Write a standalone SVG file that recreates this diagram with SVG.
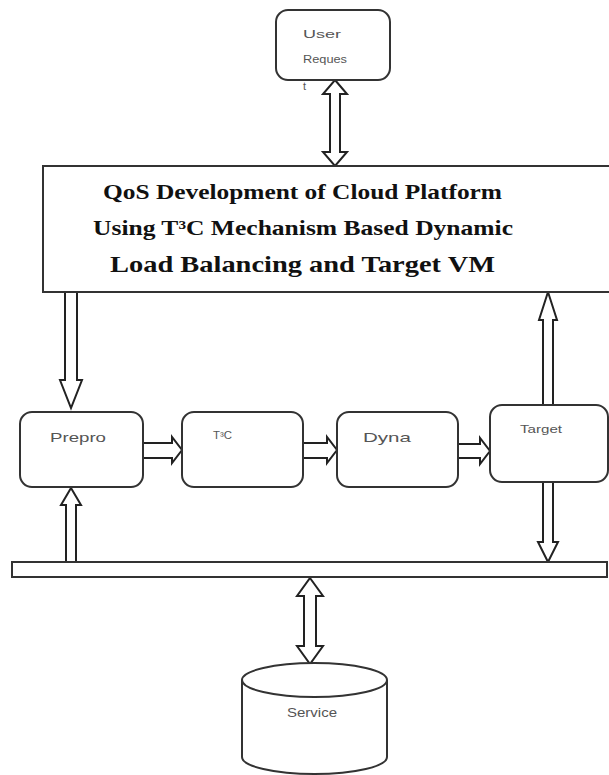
<svg xmlns="http://www.w3.org/2000/svg" width="609" height="775" viewBox="0 0 609 775">
<style>
.box{fill:#fff;stroke:#333;stroke-width:2}
.arr{fill:#fff;stroke:#222;stroke-width:2;stroke-linejoin:miter}
.lbl{font-family:"Liberation Sans",Arial,sans-serif;fill:#555}
.ttl{font-family:"Liberation Serif","Times New Roman",serif;font-weight:bold;fill:#111}
</style>
<rect width="609" height="775" fill="#fff"/>
<g id="connectors">
<polygon class="arr" points="335,80 347,94 340,94 340,152 347,152 335,166 323,152 330,152 330,94 323,94"/>
<polygon class="arr" points="65,292 77,292 77,380 82,380 71,408 60,380 65,380"/>
<polygon class="arr" points="71,488 81,505 76,505 76,562 66,562 66,505 61,505"/>
<polygon class="arr" points="548,292 557,320 553,320 553,405 543,405 543,320 539,320"/>
<polygon class="arr" points="543,482 553,482 553,542 558,542 548,562 538,542 543,542"/>
<polygon class="arr" points="310,578 323,596 316,596 316,646 323,646 310,664 297,646 304,646 304,596 297,596"/>
<polygon class="arr" points="143,443 172,443 172,437 182,450 172,463 172,458 143,458"/>
<polygon class="arr" points="303,443 327,443 327,437 337,450 327,463 327,458 303,458"/>
<polygon class="arr" points="458,444 480,444 480,438 490,451 480,464 480,458 458,458"/>
</g>
<g id="user">
<rect class="box" x="276" y="10" width="114" height="70" rx="12"/>
<text class="lbl" x="303" y="38" font-size="11" textLength="38" lengthAdjust="spacingAndGlyphs">User</text>
<text class="lbl" x="303" y="63" font-size="11" textLength="44" lengthAdjust="spacingAndGlyphs">Reques</text>
<text class="lbl" x="303" y="90" font-size="11">t</text>
</g>
<g id="main">
<rect class="box" x="43" y="166" width="575" height="126"/>
<text class="ttl" x="103" y="199" font-size="21" textLength="399" lengthAdjust="spacingAndGlyphs">QoS Development of Cloud Platform</text>
<text class="ttl" x="93" y="235" font-size="21" textLength="420" lengthAdjust="spacingAndGlyphs">Using T³C Mechanism Based Dynamic</text>
<text class="ttl" x="110" y="272" font-size="23" textLength="385" lengthAdjust="spacingAndGlyphs">Load Balancing and Target VM</text>
</g>
<g id="prepro">
<rect class="box" x="20" y="412" width="123" height="75" rx="12"/>
<text class="lbl" x="50" y="442" font-size="13" textLength="56" lengthAdjust="spacingAndGlyphs">Prepro</text>
</g>
<g id="t3c">
<rect class="box" x="182" y="412" width="121" height="75" rx="12"/>
<text class="lbl" x="213" y="439" font-size="10" textLength="19" lengthAdjust="spacingAndGlyphs">T³C</text>
</g>
<g id="dyna">
<rect class="box" x="337" y="412" width="121" height="75" rx="12"/>
<text class="lbl" x="363" y="442" font-size="13" textLength="48" lengthAdjust="spacingAndGlyphs">Dyna</text>
</g>
<g id="target">
<rect class="box" x="490" y="405" width="118" height="77" rx="12"/>
<text class="lbl" x="520" y="433" font-size="11" textLength="42" lengthAdjust="spacingAndGlyphs">Target</text>
</g>
<g id="bus">
<rect class="box" x="12" y="562" width="595" height="15"/>
</g>
<g id="service">
<path class="box" d="M242,680 L242,757 A72.5,17 0 0 0 387,757 L387,680 A72.5,17 0 0 0 242,680 Z"/>
<path d="M242,680 A72.5,17 0 0 0 387,680" fill="none" stroke="#333" stroke-width="2"/>
<text class="lbl" x="287" y="717" font-size="12" textLength="50" lengthAdjust="spacingAndGlyphs">Service</text>
</g>
</svg>
